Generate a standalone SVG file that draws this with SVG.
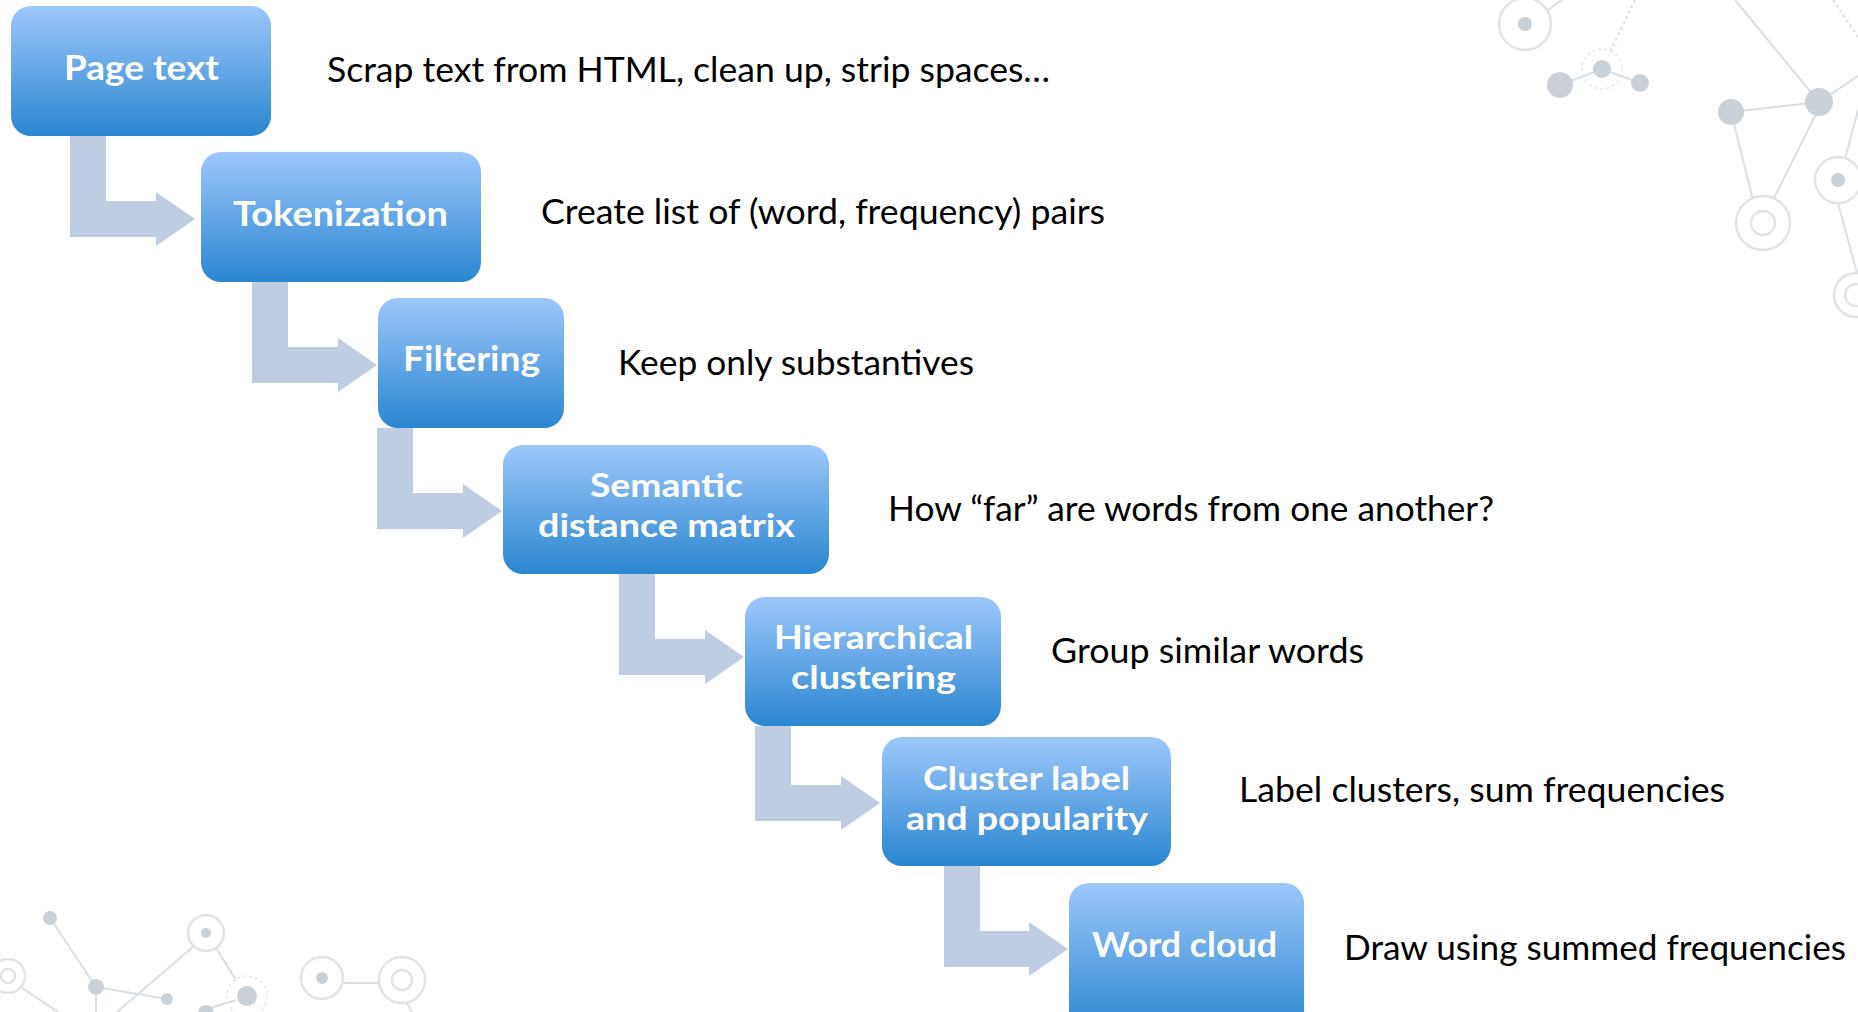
<svg xmlns="http://www.w3.org/2000/svg" width="1858" height="1012" viewBox="0 0 1858 1012">
<style>
.box{fill:url(#g);}
.lbl{font-family:Lato,"Open Sans",sans-serif;font-weight:bold;font-size:35px;fill:#fff;}
.lbl2{font-family:Lato,"Open Sans",sans-serif;font-weight:bold;font-size:32.5px;fill:#fff;}
.desc{font-family:Lato,"Open Sans",sans-serif;font-size:34.5px;fill:#000;}
.conn{fill:#BECDE1;}
.dl{stroke:#DADFE4;stroke-width:2;fill:none;}
.dd{stroke:#DADFE4;stroke-width:2;fill:none;stroke-dasharray:3 3;}
.ring{stroke:#E0E4E8;stroke-width:2.5;fill:#fff;}
.dot{fill:#C9D1D8;}
</style>
<defs>
<linearGradient id="g" x1="0" y1="0" x2="0" y2="1">
<stop offset="0" stop-color="#9DC7FB"/>
<stop offset="1" stop-color="#2A86D0"/>
</linearGradient>
</defs>
<rect width="1858" height="1012" fill="#fff"/>
<g id="decor-top-right">
<line class="dl" x1="1522" y1="0" x2="1525" y2="20"/>
<line class="dl" x1="1548" y1="10" x2="1562" y2="0"/>
<line class="dd" x1="1635" y1="0" x2="1610" y2="52"/>
<line class="dl" x1="1560" y1="85" x2="1602" y2="69"/>
<line class="dl" x1="1602" y1="69" x2="1640" y2="83"/>
<line class="dl" x1="1735" y1="0" x2="1819" y2="102"/>
<line class="dl" x1="1731" y1="112" x2="1819" y2="102"/>
<line class="dl" x1="1819" y1="102" x2="1858" y2="76"/>
<line class="dl" x1="1731" y1="112" x2="1753" y2="200"/>
<line class="dl" x1="1816" y1="114" x2="1772" y2="202"/>
<line class="dl" x1="1842" y1="170" x2="1858" y2="110"/>
<line class="dd" x1="1833" y1="0" x2="1858" y2="37"/>
<line class="dl" x1="1838" y1="203" x2="1857" y2="273"/>
<circle class="ring" cx="1525" cy="24" r="26"/>
<circle class="dot" cx="1525" cy="24" r="7"/>
<circle cx="1602" cy="69" r="20" fill="none" stroke="#E3E6E9" stroke-width="1.5" stroke-dasharray="3 3"/>
<circle class="dot" cx="1602" cy="69" r="9"/>
<circle class="dot" cx="1560" cy="85" r="13"/>
<circle class="dot" cx="1640" cy="83" r="9"/>
<circle class="dot" cx="1819" cy="102" r="14"/>
<circle class="dot" cx="1731" cy="112" r="13"/>
<circle class="ring" cx="1763" cy="223" r="27"/>
<circle class="ring" cx="1763" cy="223" r="12"/>
<circle class="ring" cx="1838" cy="180" r="23"/>
<circle class="dot" cx="1838" cy="180" r="7"/>
<circle class="ring" cx="1856" cy="295" r="22"/>
<circle class="ring" cx="1856" cy="295" r="11"/>
</g>
<g id="decor-bottom-left">
<line class="dl" x1="50" y1="918" x2="96" y2="987"/>
<line class="dl" x1="96" y1="987" x2="167" y2="999"/>
<line class="dl" x1="96" y1="987" x2="96" y2="1012"/>
<line class="dl" x1="22" y1="988" x2="58" y2="1012"/>
<line class="dl" x1="117" y1="1012" x2="194" y2="946"/>
<line class="dl" x1="216" y1="948" x2="236" y2="980"/>
<line class="dl" x1="210" y1="1008" x2="236" y2="1000"/>
<line class="dl" x1="344" y1="983" x2="380" y2="983"/>
<line class="dl" x1="406" y1="1002" x2="412" y2="1012"/>
<circle class="dot" cx="50" cy="918" r="7"/>
<circle class="dot" cx="96" cy="987" r="8"/>
<circle class="dot" cx="167" cy="999" r="6"/>
<circle class="ring" cx="8" cy="976" r="17"/>
<circle class="ring" cx="8" cy="976" r="7"/>
<circle class="ring" cx="206" cy="933" r="18"/>
<circle class="dot" cx="206" cy="933" r="5"/>
<circle cx="247" cy="996" r="20" fill="none" stroke="#E3E6E9" stroke-width="1.5" stroke-dasharray="3 3"/>
<circle class="dot" cx="247" cy="996" r="10"/>
<circle class="dot" cx="206" cy="1013" r="8"/>
<circle class="ring" cx="322" cy="978" r="21"/>
<circle class="dot" cx="322" cy="978" r="6"/>
<circle class="ring" cx="402" cy="980" r="23"/>
<circle class="ring" cx="402" cy="980" r="10"/>
</g>
<g id="connectors">
<path class="conn" d="M70,136 H106 V201 H156 V192 L195,219 L156,246 V237 H70 Z"/>
<path class="conn" d="M252,282 H288 V347 H338 V338 L377,365 L338,392 V383 H252 Z"/>
<path class="conn" d="M377,428 H413 V493 H463 V484 L502,511 L463,538 V529 H377 Z"/>
<path class="conn" d="M619,574 H655 V639 H705 V630 L744,657 L705,684 V675 H619 Z"/>
<path class="conn" d="M755,726 H791 V785 H841 V776 L880,803 L841,830 V821 H755 Z"/>
<path class="conn" d="M944,866 H980 V931 H1029 V922 L1068,949 L1029,976 V967 H944 Z"/>
</g>
<g id="node-page-text">
<rect class="box" x="11" y="6" width="260" height="130" rx="20"/>
<text class="lbl" x="64" y="80" textLength="155" lengthAdjust="spacingAndGlyphs">Page text</text>
</g>
<g id="node-tokenization">
<rect class="box" x="201" y="152" width="280" height="130" rx="20"/>
<text class="lbl" x="233" y="226" textLength="215" lengthAdjust="spacingAndGlyphs">Tokenization</text>
</g>
<g id="node-filtering">
<rect class="box" x="378" y="298" width="186" height="130" rx="20"/>
<text class="lbl" x="403" y="371" textLength="137" lengthAdjust="spacingAndGlyphs">Filtering</text>
</g>
<g id="node-semantic">
<rect class="box" x="503" y="445" width="326" height="129" rx="20"/>
<text class="lbl2" x="590" y="497" textLength="153" lengthAdjust="spacingAndGlyphs">Semantic</text>
<text class="lbl2" x="538" y="537" textLength="257" lengthAdjust="spacingAndGlyphs">distance matrix</text>
</g>
<g id="node-hierarchical">
<rect class="box" x="745" y="597" width="256" height="129" rx="20"/>
<text class="lbl2" x="774" y="649" textLength="199" lengthAdjust="spacingAndGlyphs">Hierarchical</text>
<text class="lbl2" x="791" y="689" textLength="165" lengthAdjust="spacingAndGlyphs">clustering</text>
</g>
<g id="node-cluster">
<rect class="box" x="882" y="737" width="289" height="129" rx="20"/>
<text class="lbl2" x="923" y="790" textLength="207" lengthAdjust="spacingAndGlyphs">Cluster label</text>
<text class="lbl2" x="906" y="830" textLength="242" lengthAdjust="spacingAndGlyphs">and popularity</text>
</g>
<g id="node-word-cloud">
<rect class="box" x="1069" y="883" width="235" height="150" rx="20"/>
<text class="lbl" x="1092" y="957" textLength="185" lengthAdjust="spacingAndGlyphs">Word cloud</text>
</g>
<g id="descriptions">
<text class="desc" x="327" y="82" textLength="723" lengthAdjust="spacingAndGlyphs">Scrap text from HTML, clean up, strip spaces…</text>
<text class="desc" x="541" y="224" textLength="564" lengthAdjust="spacingAndGlyphs">Create list of (word, frequency) pairs</text>
<text class="desc" x="618" y="375" textLength="356" lengthAdjust="spacingAndGlyphs">Keep only substantives</text>
<text class="desc" x="888" y="521" textLength="606" lengthAdjust="spacingAndGlyphs">How “far” are words from one another?</text>
<text class="desc" x="1051" y="663" textLength="313" lengthAdjust="spacingAndGlyphs">Group similar words</text>
<text class="desc" x="1239" y="802" textLength="486" lengthAdjust="spacingAndGlyphs">Label clusters, sum frequencies</text>
<text class="desc" x="1344" y="960" textLength="502" lengthAdjust="spacingAndGlyphs">Draw using summed frequencies</text>
</g>
</svg>
